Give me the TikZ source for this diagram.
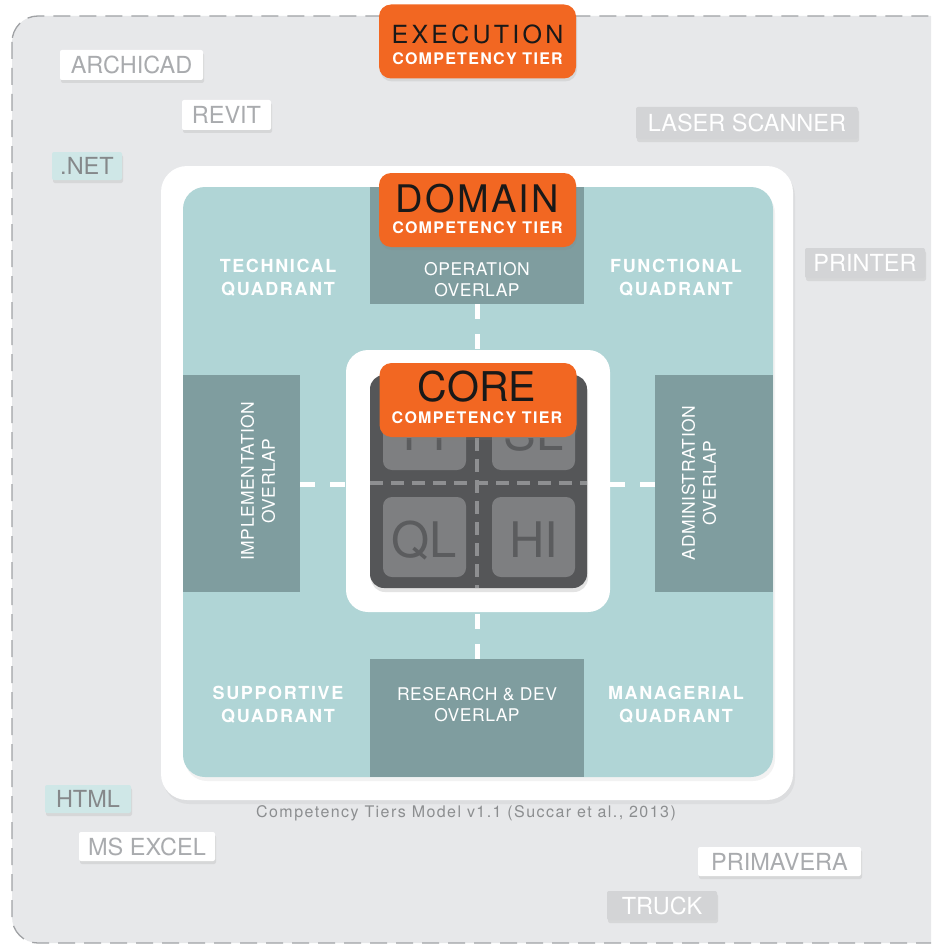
\documentclass[tikz,border=0pt]{standalone}
\usepackage{fontspec}
\setmainfont{TeX Gyre Heros}
\newfontfamily\tierfont[LetterSpace=8]{TeX Gyre Heros}
\newfontfamily\quadfont[LetterSpace=9]{TeX Gyre Heros}
\newfontfamily\ovfont[LetterSpace=3]{TeX Gyre Heros}
\newfontfamily\capfont[LetterSpace=9]{TeX Gyre Heros}
\usetikzlibrary{shadows}
\definecolor{bggrey}{HTML}{E7E8EA}
\definecolor{dashgrey}{HTML}{A0A2A5}
\definecolor{teal}{HTML}{B0D5D6}
\definecolor{overlap}{HTML}{7F9D9F}
\definecolor{tierorange}{HTML}{F26722}
\definecolor{coredark}{HTML}{555658}
\definecolor{sqgrey}{HTML}{7E7F81}
\definecolor{sqtext}{HTML}{5B5C5E}
\definecolor{coredash}{HTML}{8E8F91}
\definecolor{labtext}{HTML}{A9ABAE}
\definecolor{labgrey}{HTML}{D3D4D6}
\definecolor{labteal}{HTML}{CFE7E7}
\definecolor{labtealtext}{HTML}{85888A}
\definecolor{captext}{HTML}{8C8E90}
\tikzset{
  boxshadow/.style={drop shadow={opacity=0.16, shadow xshift=1pt, shadow yshift=-3pt}},
  tierbox/.style={fill=tierorange, rounded corners=12pt, minimum width=197pt, minimum height=74pt, inner sep=0pt, boxshadow},
  tiersub/.style={text=white, inner sep=0pt, font=\tierfont\bfseries\fontsize{16}{18}\selectfont},
  tiertitle/.style={text=black!90, inner sep=0pt},
  labbox/.style={rounded corners=2pt, minimum height=30pt, inner sep=0pt, font=\fontsize{23.5}{25}\selectfont, boxshadow},
  wlab/.style={labbox, fill=white, text=labtext},
  glab/.style={labbox, fill=labgrey, text=white},
  tlab/.style={labbox, fill=labteal, text=labtealtext},
  quadtext/.style={text=white, align=center, inner sep=0pt, font=\quadfont\bfseries\fontsize{18}{23}\selectfont},
  ovtext/.style={text=white, align=center, inner sep=0pt, font=\ovfont\fontsize{17.5}{21}\selectfont},
  ovbox/.style={fill=overlap, inner sep=0pt},
  sqbox/.style={fill=sqgrey, rounded corners=9pt, minimum width=83pt, minimum height=80pt, inner sep=0pt},
  sqtxt/.style={text=sqtext, inner sep=0pt, anchor=base, font=\fontsize{49}{50}\selectfont},
  whitedash/.style={white, line width=5pt, dash pattern=on 15pt off 15pt},
  greydash/.style={coredash, line width=4pt, dash pattern=on 13pt off 8pt}
}
\begin{document}
\begin{tikzpicture}[x=1pt,y=-1pt]
\useasboundingbox (0,0) rectangle (931,947);
\clip (0,0) rectangle (931,947);
\fill[white] (0,0) rectangle (931,947);
% outer dashed area
\draw[fill=bggrey, draw=dashgrey, line width=1.3pt, dash pattern=on 17pt off 9pt, rounded corners=26pt] (12,16) rectangle (990,943);

% white frame and teal panel
\node[fill=white, rounded corners=26pt, minimum width=632pt, minimum height=634pt, inner sep=0pt, drop shadow={opacity=0.10, shadow xshift=2pt, shadow yshift=-4pt}] (frame) at (477,483) {};
\node[fill=teal, rounded corners=22pt, minimum width=590pt, minimum height=590pt, inner sep=0pt, drop shadow={opacity=0.10, shadow xshift=2pt, shadow yshift=-4pt}] (panel) at (478,482) {};

% overlaps
\node[ovbox, minimum width=214pt, minimum height=117pt] (opov) at (477,245.5) {};
\node[ovbox, minimum width=214pt, minimum height=118pt] (rdov) at (477,718) {};
\node[ovbox, minimum width=117pt, minimum height=217pt] (imov) at (241.5,483.5) {};
\node[ovbox, minimum width=118pt, minimum height=217pt] (adov) at (714,483.5) {};

\node[ovtext] (opovt) at (477,280) {OPERATION\\OVERLAP};
\node[ovtext] (rdovt) at (477,705) {RESEARCH \& DEV\\OVERLAP};
\node[ovtext, rotate=90] (imovt) at (258,481) {IMPLEMENTATION\\OVERLAP};
\node[ovtext, rotate=90] (adovt) at (699,483) {ADMINISTRATION\\OVERLAP};

% quadrant labels
\node[quadtext] (techq) at (278,277.5) {TECHNICAL\\QUADRANT};
\node[quadtext] (funcq) at (676,277.5) {FUNCTIONAL\\QUADRANT};
\node[quadtext] (suppq) at (278,705) {SUPPORTIVE\\QUADRANT};
\node[quadtext] (manq) at (676,705) {MANAGERIAL\\QUADRANT};

% white dashes
\coordinate (dl1) at (300,484); \coordinate (dl2) at (346,484);
\coordinate (dr1) at (655,484); \coordinate (dr2) at (610,484);
\coordinate (dt1) at (477,304); \coordinate (dt2) at (477,350);
\coordinate (db1) at (477,659); \coordinate (db2) at (477,612);
\draw[whitedash] (dl1) -- (dl2);
\draw[whitedash] (dr1) -- (dr2);
\draw[whitedash] (dt1) -- (dt2);
\draw[whitedash] (db1) -- (db2);

% core frame
\node[fill=white, rounded corners=22pt, minimum width=264pt, minimum height=262pt, inner sep=0pt] (coreframe) at (478,481) {};
\node[fill=coredark, rounded corners=14pt, minimum width=217pt, minimum height=213pt, inner sep=0pt, drop shadow={opacity=0.22, shadow xshift=1pt, shadow yshift=-4pt}] (coredk) at (478.5,481.5) {};

\node[sqbox] (sqtl) at (424.5,430) {};
\node[sqbox] (sqtr) at (533.5,430) {};
\node[sqbox] (sqbl) at (424.5,537) {};
\node[sqbox] (sqbr) at (533.5,537) {};
\begin{scope}
\clip (370,438) rectangle (590,480);
\node[sqtxt] (ttl) at (424.5,450) {TT};
\node[sqtxt] (ttr) at (533.5,450) {SL};
\end{scope}
\node[sqtxt] (tbl) at (424.5,557) {QL};
\node[sqtxt] (tbr) at (533.5,557) {HI};

\coordinate (ch1) at (370,483); \coordinate (ch2) at (587,483);
\coordinate (cv1) at (477,375); \coordinate (cv2) at (477,588);
\draw[greydash] (ch1) -- (ch2);
\draw[greydash] (cv1) -- (cv2);

% tier boxes
\node[tierbox] (core) at (478,400) {};
\node[tiertitle, font=\fontsize{41}{42}\selectfont] (coret) at (477,387) {CORE};
\node[tiersub] (cores) at (477,417.5) {COMPETENCY TIER};

\node[tierbox] (domain) at (477.5,210) {};
\node[tiertitle, font=\addfontfeature{LetterSpace=6}\fontsize{38}{40}\selectfont] (domaint) at (477.5,199) {DOMAIN};
\node[tiersub] (domains) at (477.5,227.5) {COMPETENCY TIER};

\node[tierbox] (exec) at (477.5,41.5) {};
\node[tiertitle, font=\addfontfeature{LetterSpace=13}\fontsize{25}{27}\selectfont] (exect) at (477.5,34) {EXECUTION};
\node[tiersub] (execs) at (477.5,59) {COMPETENCY TIER};

% tool labels
\node[wlab, minimum width=143pt] (archicad) at (131.5,65) {ARCHICAD};
\node[wlab, minimum width=89pt] (revit) at (226.5,115) {REVIT};
\node[tlab, minimum width=70pt, minimum height=28pt] (dotnet) at (87,166) {.NET};
\node[glab, minimum width=222pt, minimum height=32pt] (laser) at (747,123) {LASER SCANNER};
\node[glab, minimum width=120pt] (printer) at (865,263) {PRINTER};
\node[tlab, minimum width=86pt, minimum height=28pt] (html) at (88,799) {HTML};
\node[wlab, minimum width=136pt, minimum height=29pt] (excel) at (147,846.5) {MS EXCEL};
\node[wlab, minimum width=163pt, minimum height=29pt] (primavera) at (779.5,861.5) {PRIMAVERA};
\node[glab, minimum width=110pt, minimum height=29pt] (truck) at (662,905.5) {TRUCK};

% caption
\node[text=captext, inner sep=0pt, font=\capfont\fontsize{16}{18}\selectfont] (caption) at (466,813) {Competency Tiers Model v1.1 (Succar et al., 2013)};
\end{tikzpicture}
\end{document}
